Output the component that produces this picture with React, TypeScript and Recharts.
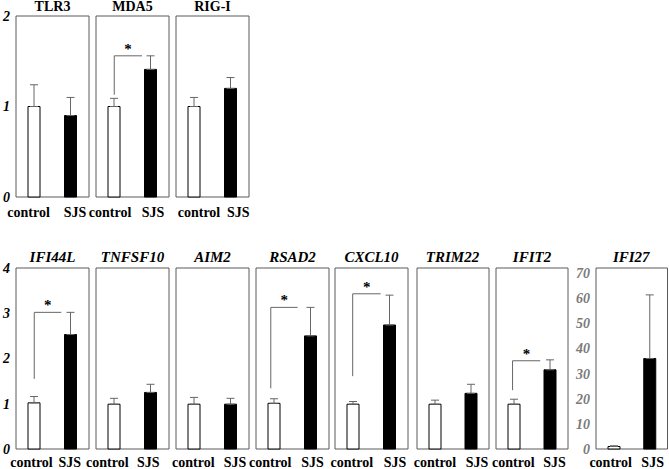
import React from 'react';
import { BarChart, Bar, XAxis, YAxis, Cell, ErrorBar, ReferenceArea, ReferenceLine } from 'recharts';

const groups = ['control', 'SJS'];

const topGenes = ['TLR3', 'MDA5', 'RIG-I'];
const topMeans = [[1, 0.9], [1, 1.41], [1, 1.2]];
const topErrors = [[0.24, 0.2], [0.09, 0.15], [0.1, 0.12]];
const topTicks = [0, 1, 2];

const bottomGenes = ['IFI44L', 'TNFSF10', 'AIM2', 'RSAD2', 'CXCL10', 'TRIM22', 'IFIT2', 'IFI27'];
const bottomMeans = [[1.02, 2.53], [0.99, 1.25], [0.99, 0.99], [1.01, 2.5], [0.99, 2.74], [0.99, 1.23], [0.99, 1.75], [1, 36]];
const bottomErrors = [[0.14, 0.49], [0.13, 0.18], [0.15, 0.13], [0.1, 0.63], [0.06, 0.66], [0.09, 0.2], [0.11, 0.22], [0.3, 25.3]];
const bottomTicks = [0, 1, 2, 3, 4];
const ifi27Ticks = [0, 10, 20, 30, 40, 50, 60, 70];

// significance brackets (data units): vertical at x0 from y0 up to y1, then across to x1
const brackets = [
  { gene: 'MDA5', x0: 1, x1: 2.52, y0: 1.13, y1: 1.56 },
  { gene: 'IFI44L', x0: 1, x1: 2.48, y0: 1.55, y1: 3.02 },
  { gene: 'RSAD2', x0: 0.81, x1: 2.28, y0: 1.34, y1: 3.13 },
  { gene: 'CXCL10', x0: 0.97, x1: 2.5, y0: 1.61, y1: 3.43 },
  { gene: 'IFIT2', x0: 0.92, x1: 2.46, y0: 1.3, y1: 1.95 },
];

// layout
const YW = 22, MR = 4, MT = 12, XH = 30;
const FONT = 'Liberation Serif, Times New Roman, serif';
const topX = [16, 96, 176];
const topW = [73, 73, 73];
const topLabelX = [[0.69, 3.23], [0.77, 3.12], [1.26, 3.41]];
const bottomX = [16, 96, 176, 256, 335, 416.5, 496, 595.5];
const bottomW = [73, 73, 73, 73, 73, 72, 72, 71.5];
const bottomLabelX = [[0.85, 2.95], [0.62, 2.87], [0.95, 3.23], [0.78, 3.1], [0.92, 3.29], [1.0, 3.33], [0.96, 3.25], [0.82, 3.17]];
const FRAME_H = 181;

type PanelProps = {
  gene: string;
  x: number;
  y: number;
  w: number;
  max: number;
  yTicks?: number[];
  tickColor?: string;
  means: number[];
  errors: number[];
  labelX: number[];
  labelMargin: number;
};

function Panel({ gene, x, y, w, max, yTicks, tickColor = '#000', means, errors, labelX, labelMargin }: PanelProps) {
  const data = means.map((v, i) => ({ x: i === 0 ? 1 : 3, v, e: [0, errors[i]] }));
  const br = brackets.find((b) => b.gene === gene);
  return (
    <div style={{ position: 'absolute', left: x - YW, top: y - MT }}>
      <BarChart
        width={w + YW + MR}
        height={FRAME_H + MT + XH}
        data={data}
        margin={{ top: MT, right: MR, bottom: 0, left: 0 }}
      >
        <XAxis
          type="number"
          dataKey="x"
          domain={[0, 4]}
          ticks={labelX}
          interval={0}
          tickFormatter={(_v: any, i: number) => groups[i]}
          axisLine={false}
          tickLine={false}
          tickSize={0}
          tickMargin={labelMargin}
          height={XH}
          tick={{ fill: '#000', fontSize: 14, fontWeight: 'bold', fontFamily: FONT }}
        />
        <YAxis
          type="number"
          domain={[0, max]}
          ticks={yTicks ?? [0, max]}
          interval={0}
          width={YW}
          axisLine={false}
          tickLine={false}
          tickSize={0}
          tickMargin={6}
          tick={yTicks ? { fill: tickColor, fontSize: 14, fontWeight: 'bold', fontStyle: 'italic', fontFamily: FONT } : false}
        />
        <ReferenceArea x1={0} x2={4} y1={0} y2={max} fill="none" stroke="#5a5a5a" strokeWidth={1} />
        {br && (
          <ReferenceLine
            segment={[{ x: br.x0, y: br.y0 }, { x: br.x0, y: br.y1 }]}
            stroke="#666"
            strokeWidth={1}
            ifOverflow="visible"
          />
        )}
        {br && (
          <ReferenceLine
            segment={[{ x: br.x0, y: br.y1 }, { x: br.x1, y: br.y1 }]}
            stroke="#666"
            strokeWidth={1}
            ifOverflow="visible"
            label={{ value: '*', position: 'top', offset: 2, fill: '#000', fontSize: 15, fontWeight: 'bold', fontFamily: FONT }}
          />
        )}
        <Bar dataKey="v" barSize={12} stroke="#000" strokeWidth={1} isAnimationActive={false}>
          {data.map((_d, i) => (
            <Cell key={i} fill={i === 0 ? '#fff' : '#000'} />
          ))}
          <ErrorBar dataKey="e" direction="y" width={4} stroke="#666" strokeWidth={1} isAnimationActive={false} />
        </Bar>
      </BarChart>
    </div>
  );
}

export default function App() {
  return (
    <div style={{ position: 'absolute', left: 0, top: 0, width: 669, height: 469, background: '#fff', overflow: 'hidden' }}>
      {topGenes.map((g, i) => (
        <Panel
          key={g}
          gene={g}
          x={topX[i]}
          y={16}
          w={topW[i]}
          max={2}
          yTicks={i === 0 ? topTicks : undefined}
          means={topMeans[i]}
          errors={topErrors[i]}
          labelX={topLabelX[i]}
          labelMargin={10}
        />
      ))}
      {bottomGenes.map((g, i) => (
        <Panel
          key={g}
          gene={g}
          x={bottomX[i]}
          y={268}
          w={bottomW[i]}
          max={g === 'IFI27' ? 72 : 4}
          yTicks={i === 0 ? bottomTicks : g === 'IFI27' ? ifi27Ticks : undefined}
          tickColor={g === 'IFI27' ? '#7a7a7a' : '#000'}
          means={bottomMeans[i]}
          errors={bottomErrors[i]}
          labelX={bottomLabelX[i]}
          labelMargin={8}
        />
      ))}
      <svg width={669} height={469} style={{ position: 'absolute', left: 0, top: 0, pointerEvents: 'none' }}>
        {topGenes.map((g, i) => (
          <text key={g} x={topX[i] + topW[i] / 2} y={11} textAnchor="middle" fontSize={14} fontWeight="bold" fontFamily={FONT}>
            {g}
          </text>
        ))}
        {bottomGenes.map((g, i) => (
          <text key={g} x={bottomX[i] + bottomW[i] / 2} y={261.5} textAnchor="middle" fontSize={15} fontWeight="bold" fontStyle="italic" fontFamily={FONT}>
            {g}
          </text>
        ))}
      </svg>
    </div>
  );
}
